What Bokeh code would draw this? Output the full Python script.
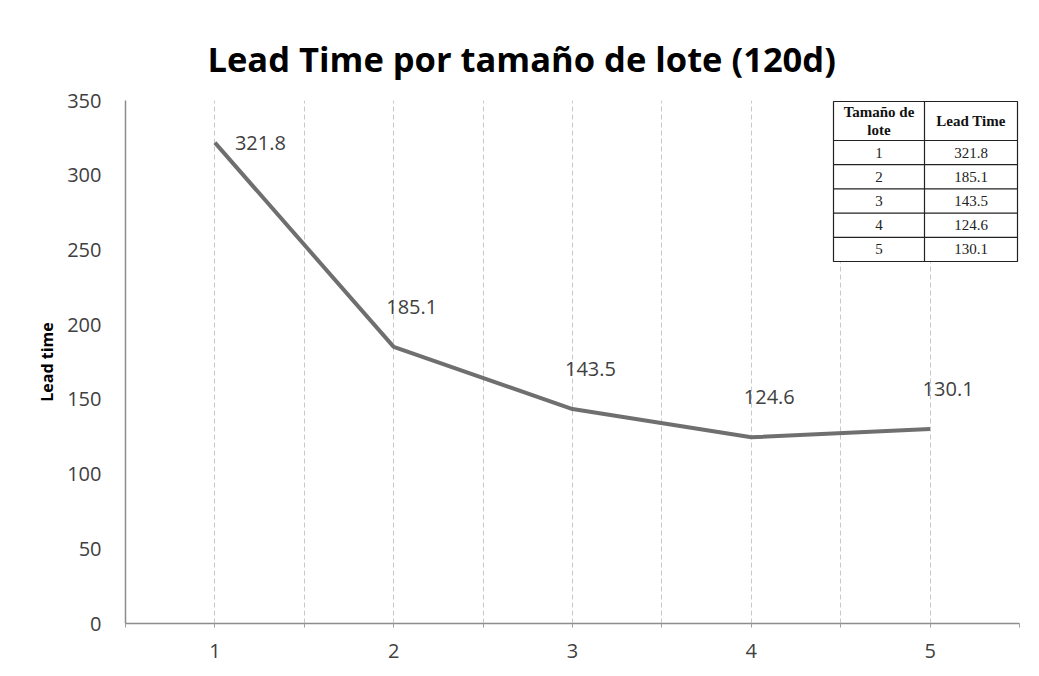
from bokeh.plotting import figure
from bokeh.models import Range1d, FixedTicker, ColumnDataSource
from bokeh.core.properties import value
from bokeh.embed import file_html
from bokeh.resources import INLINE

# ---- data ----
lot_sizes = [1, 2, 3, 4, 5]
lead_times = [321.8, 185.1, 143.5, 124.6, 130.1]
y_ticks = [0, 50, 100, 150, 200, 250, 300, 350]
title_text = "Lead Time por tamaño de lote (120d)"
y_label = "Lead time"
table_headers = ["Tamaño de\nlote", "Lead Time"]

# ---- geometry (screen px of the frame) ----
W, H = 1031, 668
FL, FR, FT, FB = 125, 1019, 100, 623   # frame edges in canvas px
X0, X1 = 0.5, 5.5
Y0, Y1 = 0, 350

def dx(px):
    return X0 + (px - FL) / (FR - FL) * (X1 - X0)

def dy(py):
    return Y0 + (FB - py) / (FB - FT) * (Y1 - Y0)

FONT = "Open Sans"
TXT = "#404040"

p = figure(width=W, height=H, output_backend="svg", toolbar_location=None,
           x_range=Range1d(X0, X1), y_range=Range1d(Y0, Y1),
           min_border_left=FL, min_border_right=W - FR,
           min_border_top=FT, min_border_bottom=H - FB,
           background_fill_color="white", border_fill_color="white")
p.outline_line_color = None

p.title.text = title_text
p.title.text_font = FONT
p.title.text_font_size = "34.5px"
p.title.text_font_style = "bold"
p.title.text_color = "#000000"
p.title.align = "left"
p.title.offset = 82
p.title.standoff = 38

# x axis: ticks at categories and boundaries
half_ticks = [c - 0.5 for c in lot_sizes] + [lot_sizes[-1] + 0.5]
all_ticks = sorted(lot_sizes + half_ticks)
p.xaxis.ticker = FixedTicker(ticks=all_ticks)
p.xaxis.major_label_overrides = {float(t): (str(int(t)) if t in lot_sizes else "") for t in all_ticks}
p.xaxis.minor_tick_line_color = None
p.xaxis.major_tick_in = 0
p.xaxis.major_tick_out = 4
p.xaxis.major_tick_line_color = "#a0a0a0"
p.xaxis.axis_line_color = "#8c8c8c"
p.xaxis.axis_line_width = 1.5
p.xaxis.major_label_text_font = FONT
p.xaxis.major_label_text_font_size = "20px"
p.xaxis.major_label_text_color = TXT
p.xaxis.major_label_standoff = 16

p.yaxis.ticker = FixedTicker(ticks=y_ticks)
p.yaxis.major_tick_line_color = None
p.yaxis.minor_tick_line_color = None
p.yaxis.axis_line_color = "#8c8c8c"
p.yaxis.axis_line_width = 1.5
p.yaxis.major_label_text_font = FONT
p.yaxis.major_label_text_font_size = "20px"
p.yaxis.major_label_text_color = TXT
p.yaxis.major_label_standoff = 18
p.yaxis.axis_label = y_label
p.yaxis.axis_label_text_font = FONT
p.yaxis.axis_label_text_font_size = "16px"
p.yaxis.axis_label_text_font_style = "bold"
p.yaxis.axis_label_text_color = "#000000"
p.yaxis.axis_label_standoff = 6

p.ygrid.grid_line_color = None
p.xgrid.ticker = FixedTicker(ticks=all_ticks)
p.xgrid.grid_line_color = "#c8c8c8"
p.xgrid.grid_line_dash = "5 3"
p.xgrid.grid_line_width = 1

# main line
src = ColumnDataSource(dict(x=lot_sizes, y=lead_times))
p.line("x", "y", source=src, line_width=4, line_color="#6f6f6f")

# data labels
first = ColumnDataSource(dict(x=lot_sizes[:1], y=lead_times[:1],
                              lab=[f"{v:.1f}" for v in lead_times[:1]]))
rest = ColumnDataSource(dict(x=lot_sizes[1:], y=lead_times[1:],
                             lab=[f"{v:.1f}" for v in lead_times[1:]]))
p.text("x", "y", text="lab", source=first, x_offset=20, y_offset=0,
       text_font=value(FONT), text_font_size="20px", text_color=TXT,
       text_align="left", text_baseline="middle")
p.text("x", "y", text="lab", source=rest, x_offset=18, y_offset=-40,
       text_font=value(FONT), text_font_size="20px", text_color=TXT,
       text_align="center", text_baseline="middle")

# ---- embedded table ----
TL, TM, TR = 833, 924, 1017
TT, HB = 101, 140
row_h = (261 - HB) / len(lot_sizes)
tb_bottom = HB + row_h * len(lot_sizes)

p.quad(left=[dx(TL)], right=[dx(TR)], top=[dy(TT)], bottom=[dy(tb_bottom)],
       fill_color="white", line_color="#222222", line_width=1.2)
p.segment(x0=[dx(TM)], y0=[dy(TT)], x1=[dx(TM)], y1=[dy(tb_bottom)],
          line_color="#222222", line_width=1.2)
row_lines = [HB + i * row_h for i in range(len(lot_sizes))]
p.segment(x0=[dx(TL)] * len(row_lines), y0=[dy(r) for r in row_lines],
          x1=[dx(TR)] * len(row_lines), y1=[dy(r) for r in row_lines],
          line_color="#222222", line_width=1.2)

SERIF = "Liberation Serif"
c1 = dx((TL + TM) / 2)
c2 = dx((TM + TR) / 2)
h1, h2 = table_headers
p.text([c1], [dy((TT + HB) / 2)], text=[h1], text_font=value(SERIF),
       text_font_size="15px", text_font_style="bold", text_color="#111111",
       text_align="center", text_baseline="middle", text_line_height=1.1)
p.text([c2], [dy((TT + HB) / 2)], text=[h2], text_font=value(SERIF),
       text_font_size="15px", text_font_style="bold", text_color="#111111",
       text_align="center", text_baseline="middle")
row_c = [dy(HB + (i + 0.5) * row_h) for i in range(len(lot_sizes))]
p.text([c1] * len(lot_sizes), row_c, text=[str(s) for s in lot_sizes],
       text_font=value(SERIF), text_font_size="15px", text_color="#222222",
       text_align="center", text_baseline="middle")
p.text([c2] * len(lot_sizes), row_c, text=[f"{v:.1f}" for v in lead_times],
       text_font=value(SERIF), text_font_size="15px", text_color="#222222",
       text_align="center", text_baseline="middle")

open("out.html", "w").write(file_html(p, INLINE))
